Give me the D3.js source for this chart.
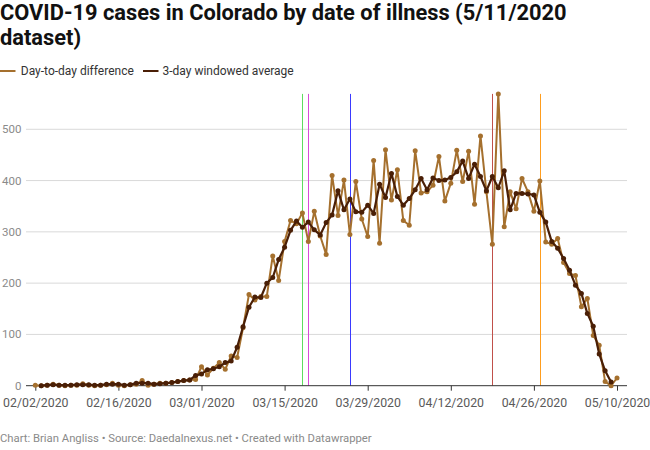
<!DOCTYPE html>
<html><head><meta charset="utf-8">
<script src="https://cdn.jsdelivr.net/npm/d3@7"></script>
<style>
body{margin:0;background:#fff;}
svg text{font-family:Roboto,"Noto Sans",sans-serif;}
</style></head><body>
<svg id="chart" width="650" height="450"></svg>
<script>
// ---------- data ----------
const titleLines = ["COVID-19 cases in Colorado by date of illness (5/11/2020", "dataset)"];
const seriesNames = ["Day-to-day difference", "3-day windowed average"];
const startDate = "2020-02-02";
const endDate = "2020-05-10";
const diffValues = [1,0,1,3,1,0,1,1,4,1, 0,1,2,5,1,0,2,3,10,1, 3,5,5,6,8,10,11,12,37,21,
  34,45,32,58,55,113,178,167,174,174, 253,205,281,322,316,337,281,340,292,256,
  410,332,401,295,398,325,291,439,278,460, 362,421,322,313,458,376,378,391,447,360,
  395,459,398,457,354,487,378,276,569,310, 378,345,404,378,340,399,280,276,287,240,
  219,215,154,170,98,79,8,0,15];
const avgValues = [null,0,1,2,1,1,1,2,2,2, 1,1,3,3,3,1,2,5,5,5, 3,4,5,6,8,10,11,20,23,31,
  33,37,45,48,75,115,153,173,172,200, 211,246,270,303,321,309,319,304,294,318,
  333,380,343,364,339,338,352,336,393,367, 414,369,352,365,382,404,382,405,400,401,
  406,417,438,404,432,408,380,408,386,419, 343,375,375,374,372,338,319,281,268,248,
  225,196,180,141,116,62,29,7,null];
const yTicks = [0,100,200,300,400,500];
const xTickDates = ["2020-02-02","2020-02-16","2020-03-01","2020-03-15","2020-03-29","2020-04-12","2020-04-26","2020-05-10"];
const xTickLabels = ["02/02/2020","02/16/2020","03/01/2020","03/15/2020","03/29/2020","04/12/2020","04/26/2020","05/10/2020"];
const markerDates = ["2020-03-18","2020-03-19","2020-03-26","2020-04-19","2020-04-27"];
const footerText = "Chart: Brian Angliss • Source: Daedalnexus.net • Created with Datawrapper";

// ---------- styles ----------
const markerColors = ["#5fdc5f","#d84ad8","#3a3aff","#c0504a","#ff9d1e"];
const lightColor = "#a5702e";
const darkColor = "#4a1f06";

const parse = d3.timeParse("%Y-%m-%d");
const dates = d3.timeDay.range(parse(startDate), d3.timeDay.offset(parse(endDate), 1));

const svg = d3.select("#chart");

// title
const titleSel = svg.selectAll("text.title").data(titleLines).join("text")
  .attr("class","title").attr("x",0).attr("y",(d,i)=>19.5 + i*25)
  .attr("font-size",21).attr("font-weight",700).attr("fill","#111").text(d=>d);
const tLen = titleSel.nodes()[0].getComputedTextLength();
titleSel.attr("font-size", 21 * 567 / tLen);

// legend
const legendItems = [
  {name: seriesNames[0], color: lightColor, x0: 0, tx: 20.8},
  {name: seriesNames[1], color: darkColor, x0: 143, tx: 162.5}
];
legendItems.forEach(it=>{
  svg.append("line").attr("x1",it.x0).attr("x2",it.x0+15.5).attr("y1",71).attr("y2",71)
    .attr("stroke",it.color).attr("stroke-width",2);
  svg.append("text").attr("x",it.tx).attr("y",75.3).attr("font-size",12)
    .attr("fill","#333").text(it.name);
});

// scales
const x = d3.scaleTime().domain([parse(startDate), parse(endDate)]).range([35.3, 617]);
const y = d3.scaleLinear().domain([0, d3.max(diffValues)]).range([385.7, 93.9]);

// gridlines
svg.append("g").selectAll("line").data(yTicks.filter(d=>d>0)).join("line")
  .attr("x1",26).attr("x2",627).attr("y1",d=>y(d)).attr("y2",d=>y(d))
  .attr("stroke","#d9d9d9").attr("stroke-width",1);

// y labels
svg.append("g").selectAll("text").data(yTicks).join("text")
  .attr("x",21.5).attr("y",d=>y(d)).attr("dy","0.35em").attr("text-anchor","end")
  .attr("font-size",11.5).attr("fill","#8a8a8a").text(d=>d);

// vertical markers
svg.append("g").selectAll("line").data(markerDates).join("line")
  .attr("x1",d=>Math.round(x(parse(d)))+0.5).attr("x2",d=>Math.round(x(parse(d)))+0.5)
  .attr("y1",y(d3.max(diffValues))).attr("y2",y(0))
  .attr("stroke",(d,i)=>markerColors[i]).attr("stroke-width",1);

// x axis
const xAxis = d3.axisBottom(x).tickValues(xTickDates.map(parse))
  .tickFormat((d,i)=>xTickLabels[i]).tickSize(5).tickPadding(8);
const gx = svg.append("g").attr("transform",`translate(0,${y(0)})`).call(xAxis);
gx.select(".domain").remove();
gx.selectAll(".tick line").attr("stroke","#333");
gx.selectAll(".tick text").attr("font-size",12.3).attr("fill","#5a5a5a")
  .attr("font-family","Roboto").attr("dy","0.71em");
svg.append("line").attr("x1",26).attr("x2",627).attr("y1",y(0)).attr("y2",y(0))
  .attr("stroke","#333").attr("stroke-width",1);

// series
const diffData = dates.map((d,i)=>({date:d, v:diffValues[i]}));
const avgData = dates.map((d,i)=>({date:d, v:avgValues[i]})).filter(d=>d.v!==null);
const line = d3.line().x(d=>x(d.date)).y(d=>y(d.v));

svg.append("path").datum(diffData).attr("d",line).attr("fill","none")
  .attr("stroke",lightColor).attr("stroke-width",2).attr("stroke-linejoin","round");
svg.append("g").selectAll("circle").data(diffData).join("circle")
  .attr("cx",d=>x(d.date)).attr("cy",d=>y(d.v)).attr("r",2.5).attr("fill",lightColor);

svg.append("path").datum(avgData).attr("d",line).attr("fill","none")
  .attr("stroke",darkColor).attr("stroke-width",2.2).attr("stroke-linejoin","round");
svg.append("g").selectAll("circle").data(avgData).join("circle")
  .attr("cx",d=>x(d.date)).attr("cy",d=>y(d.v)).attr("r",2.5).attr("fill",darkColor);

// footer
const foot = svg.append("text").attr("x",0).attr("y",441.5).attr("font-size",11.8)
  .attr("fill","#8a8a8a").text(footerText);
const fLen = foot.node().getComputedTextLength();
foot.attr("font-size", 11.8 * 372 / fLen);
</script>
</body></html>
